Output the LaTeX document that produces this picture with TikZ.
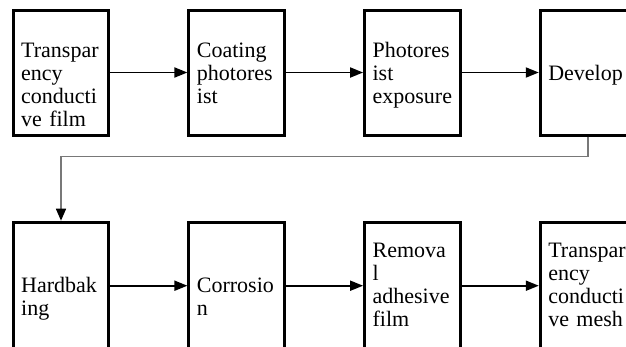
\documentclass[tikz,border=0pt]{standalone}
\usepackage{fontspec}
\setmainfont{Liberation Serif}
\usetikzlibrary{arrows.meta}
\definecolor{fbgray}{RGB}{120,120,120}
\begin{document}
\begin{tikzpicture}[x=1pt,y=-1pt,
  stepbox/.style={draw,line width=3pt,minimum width=95.6pt,minimum height=125pt,inner sep=0pt},
  lowbox/.style={stepbox,minimum height=127pt},
  lbl/.style={anchor=base west,inner sep=0pt,text width=90pt,align=left,font=\fontsize{22}{23}\selectfont},
  flow/.style={line width=1.8pt,-{Triangle[length=13pt,width=10pt]}},
  back/.style={line width=1.5pt,draw=fbgray,-{Triangle[length=12pt,width=10pt,color=black]}}]
\useasboundingbox (0,0) rectangle (626,346);
\clip (0,0) rectangle (626,346);
% top row
\node[stepbox] (b1) at (61,72.5) {};
\node[stepbox] (b2) at (236.7,72.5) {};
\node[stepbox] (b3) at (412.4,72.5) {};
\node[stepbox] (b4) at (588.1,72.5) {};
% bottom row
\node[lowbox] (c1) at (61,285.7) {};
\node[lowbox] (c2) at (236.7,285.7) {};
\node[lowbox] (c3) at (412.4,285.7) {};
\node[lowbox] (c4) at (588.1,285.7) {};
% texts
\node[lbl] (t1) at (21,57) {Transpar\\ency\\conducti\\ve film};
\node[lbl] (t2) at (196.7,57) {Coating\\photores\\ist};
\node[lbl] (t3) at (372.4,57) {Photores\\ist\\exposure};
\node[lbl] (t4) at (548.1,80) {Develop};
\node[lbl] (u1) at (21,292) {Hardbak\\ing};
\node[lbl] (u2) at (196.7,292) {Corrosio\\n};
\node[lbl] (u3) at (372.4,257) {Remova\\l\\adhesive\\film};
\node[lbl] (u4) at (548.1,257) {Transpar\\ency\\conducti\\ve mesh};
% connectors
\draw[flow] (b1.east) -- (b2.west);
\draw[flow] (b2.east) -- (b3.west);
\draw[flow] (b3.east) -- (b4.west);
\draw[flow] (c1.east) -- (c2.west);
\draw[flow] (c2.east) -- (c3.west);
\draw[flow] (c3.east) -- (c4.west);
\coordinate (fb) at (300,156.7);
\draw[back] (b4.south) |- (fb) -| (c1.north);
\end{tikzpicture}
\end{document}
